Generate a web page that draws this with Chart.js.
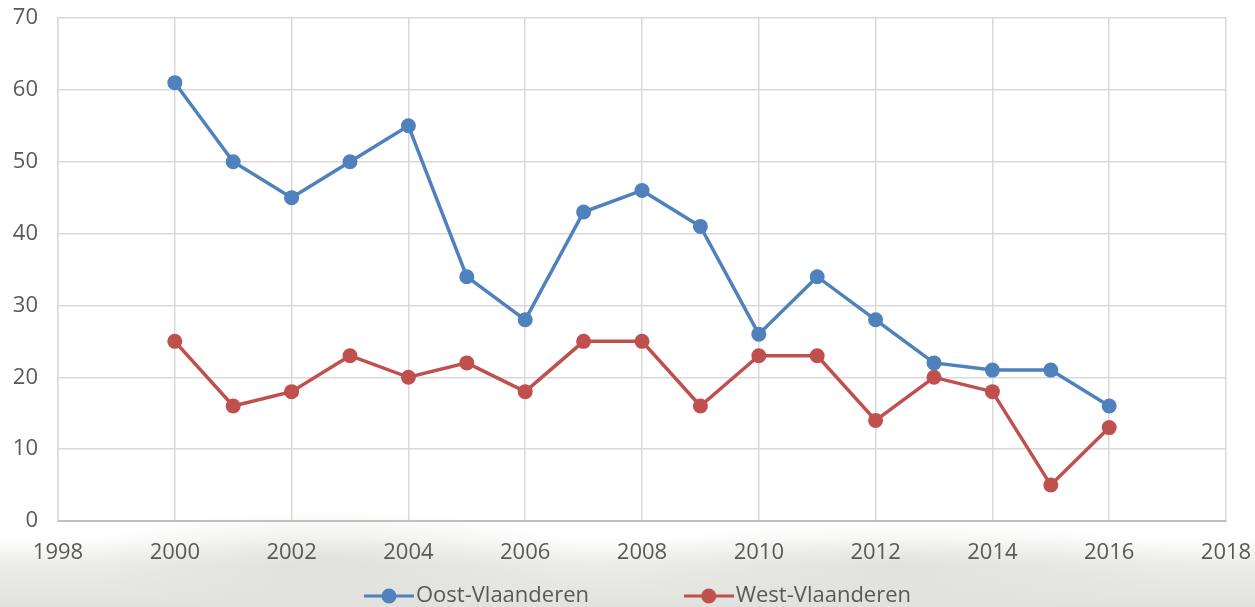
<!DOCTYPE html>
<html>
<head>
<meta charset="utf-8">
<script src="https://cdn.jsdelivr.net/npm/chart.js@4"></script>
<style>
  html, body { margin: 0; padding: 0; }
  body {
    width: 1255px; height: 607px; overflow: hidden;
    background:
      radial-gradient(ellipse 260px 50px at 330px 560px, rgba(215,215,210,0.6), rgba(255,255,255,0) 100%),
      radial-gradient(ellipse 300px 45px at 900px 565px, rgba(215,215,210,0.5), rgba(255,255,255,0) 100%),
      linear-gradient(#ffffff 0, #ffffff 538px, #ececea 565px, #e1e1dd 607px);
  }
  #wrap { position: relative; width: 1255px; height: 607px; }
</style>
</head>
<body>
<div id="wrap"><canvas id="myChart"></canvas></div>
<script>
// jaren en aantallen per provincie
const years = [2000, 2001, 2002, 2003, 2004, 2005, 2006, 2007, 2008, 2009, 2010, 2011, 2012, 2013, 2014, 2015, 2016];
const oostVlaanderen = [61, 50, 45, 50, 55, 34, 28, 43, 46, 41, 26, 34, 28, 22, 21, 21, 16];
const westVlaanderen = [25, 16, 18, 23, 20, 22, 18, 25, 25, 16, 23, 23, 14, 20, 18, 5, 13];
const seriesNames = ['Oost-Vlaanderen', 'West-Vlaanderen'];
const xMin = 1998, xMax = 2018, xStep = 2;
const yMin = 0, yMax = 70, yStep = 10;

const blue = '#4F81BD';
const red = '#C0504D';
const textColor = '#595959';
const fontFamily = '"Open Sans", "Liberation Sans", sans-serif';
const fontSize = 22;

function toPoints(values){
    return values.map((v, i) => ({x: years[i], y: v}));
}

// small legend symbol: line with a dot in the middle
function legendSymbol(color){
    const c = document.createElement('canvas');
    c.width = 50;
    c.height = 16;
    const g = c.getContext('2d');
    g.strokeStyle = color;
    g.lineWidth = 3;
    g.beginPath();
    g.moveTo(0, 8);
    g.lineTo(50, 8);
    g.stroke();
    g.fillStyle = color;
    g.beginPath();
    g.arc(25, 8, 7.5, 0, Math.PI * 2);
    g.fill();
    return c;
}

const colors = [blue, red];
const symbols = colors.map(legendSymbol);

const ctx = document.getElementById('myChart');

new Chart(ctx, {
    type: 'line',
    data: {
        datasets: [{
            label: seriesNames[0],
            data: toPoints(oostVlaanderen),
            borderColor: blue,
            backgroundColor: blue,
            borderWidth: 3.5,
            pointRadius: 7.5,
            pointHoverRadius: 7.5,
            pointBorderWidth: 0,
            tension: 0
        },
        {
            label: seriesNames[1],
            data: toPoints(westVlaanderen),
            borderColor: red,
            backgroundColor: red,
            borderWidth: 3.5,
            pointRadius: 7.5,
            pointHoverRadius: 7.5,
            pointBorderWidth: 0,
            tension: 0
        }]
    },
    options: {
        responsive: true,
        maintainAspectRatio: false,
        animation: false,
        layout: {
            autoPadding: false,
            padding: { top: 18, right: 29, left: 0, bottom: 0 }
        },
        scales: {
            x: {
                type: 'linear',
                min: xMin,
                max: xMax,
                grid: { color: '#d9d9d9', lineWidth: 1.5, drawTicks: false },
                border: { color: '#bfbfbf', width: 2 },
                ticks: {
                    stepSize: xStep,
                    padding: 19,
                    color: textColor,
                    font: { family: fontFamily, size: fontSize },
                    callback: v => String(v)
                },
                afterFit: scale => {
                    scale.height = 54;
                    scale.paddingLeft = 0;     // label overflow is covered by layout padding
                    scale.paddingRight = 0;
                }
            },
            y: {
                min: yMin,
                max: yMax,
                grid: { color: '#d9d9d9', lineWidth: 1.5, drawTicks: false },
                border: { color: '#d9d9d9', width: 1.5 },
                ticks: {
                    stepSize: yStep,
                    padding: 20,
                    color: textColor,
                    font: { family: fontFamily, size: fontSize }
                },
                afterFit: scale => {
                    scale.width = 58;
                    scale.paddingTop = 0;
                    scale.paddingBottom = 0;
                }
            }
        },
        plugins: {
            tooltip: { enabled: false },
            legend: {
                position: 'bottom',
                fullSize: false,
                maxHeight: 32,
                labels: {
                    usePointStyle: true,
                    pointStyleWidth: 32,
                    padding: 10,
                    color: textColor,
                    font: { family: fontFamily, size: fontSize },
                    generateLabels: chart => chart.data.datasets.map((ds, i) => ({
                        text: i === 0 ? ds.label + '\u2003\u2003\u2003\u2003 ' : ds.label,
                        fillStyle: colors[i],
                        strokeStyle: colors[i],
                        fontColor: textColor,
                        pointStyle: symbols[i],
                        lineWidth: 0,
                        datasetIndex: i,
                        hidden: false
                    }))
                }
            }
        }
    }
});
</script>
</body>
</html>
